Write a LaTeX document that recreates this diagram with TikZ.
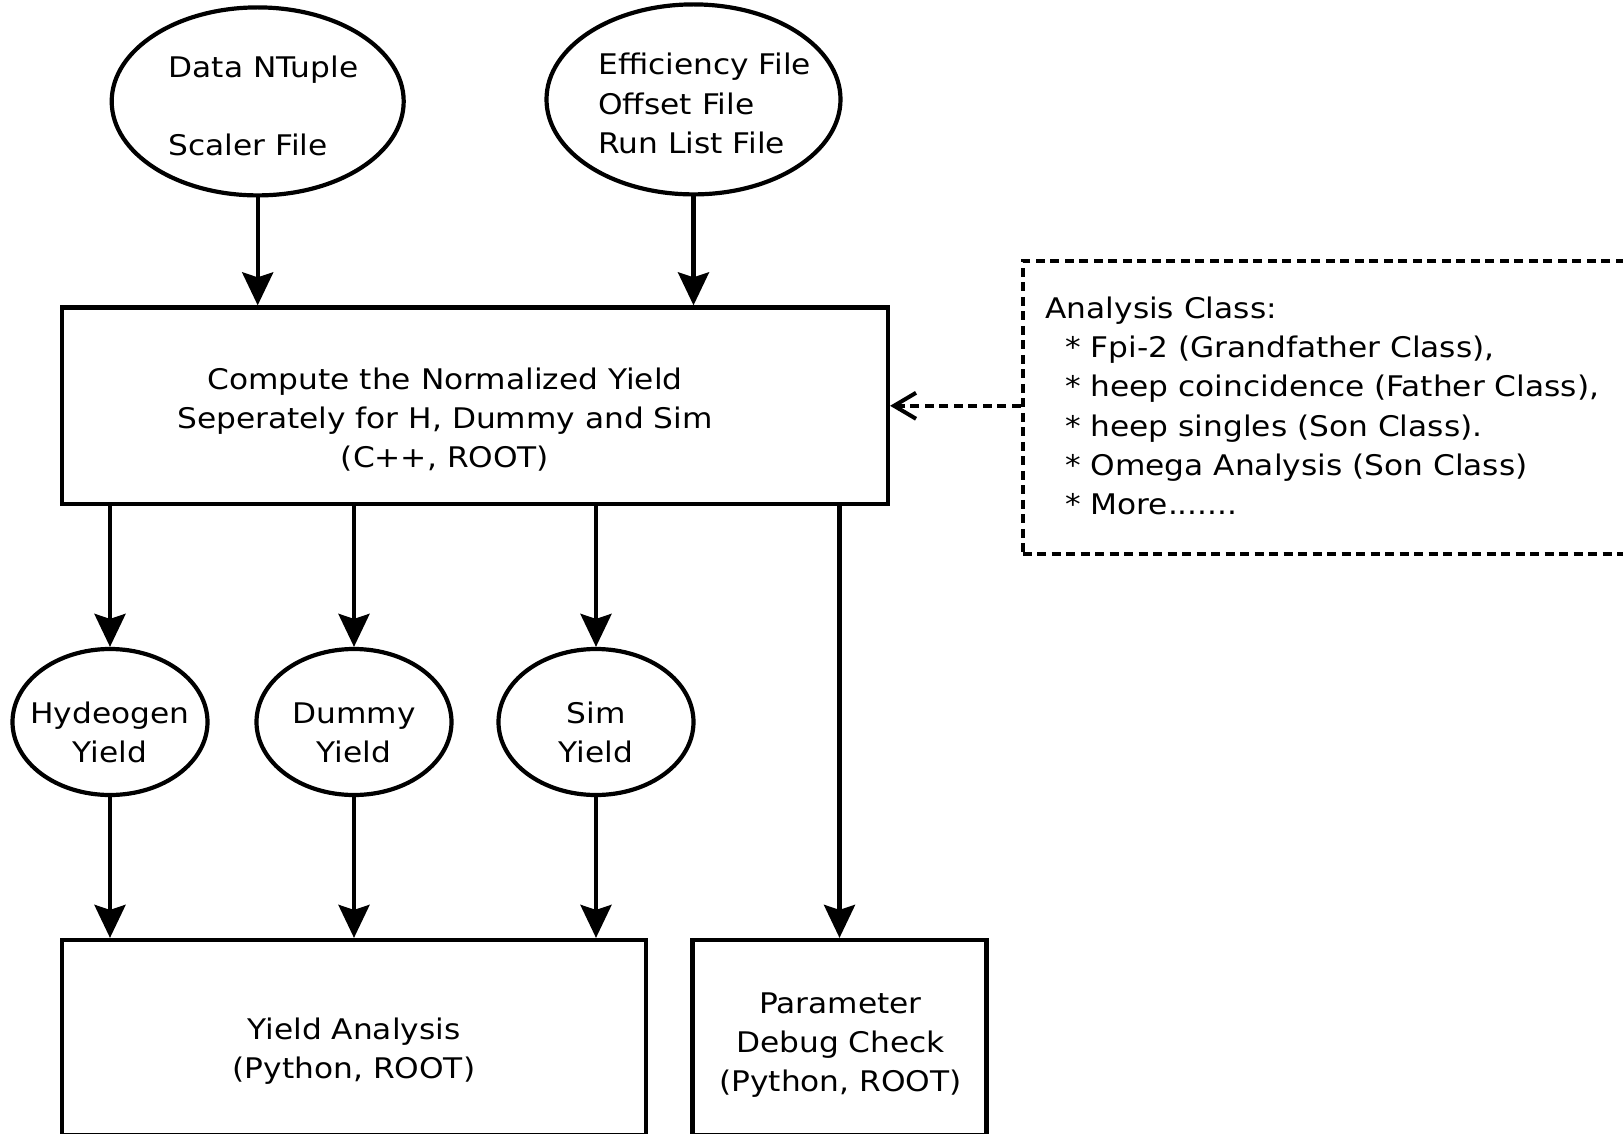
\documentclass[tikz,border=0pt]{standalone}
\usepackage{fontspec}
\setmainfont{DejaVu Sans}[FakeStretch=1.10]
\usetikzlibrary{arrows.meta,shapes.geometric}
% centred block: #1 = twice the right shift, #2 = downward shift, #3 = lines
\newcommand\ctxt[3]{\raisebox{\dimexpr-#2-9.7pt\relax}[0pt][0pt]{\makebox[0pt]{\hspace*{#1}\begin{tabular}{@{}c@{}}#3\end{tabular}}}}
% left-aligned block: #1 = left edge from node centre, #2 = downward shift, #3 = lines
\newcommand\ltxt[3]{\raisebox{\dimexpr-#2-9.7pt\relax}[0pt][0pt]{\makebox[0pt][l]{\hspace*{#1}\begin{tabular}{@{}l@{}}#3\end{tabular}}}}
\begin{document}
\begin{tikzpicture}[x=1pt,y=-1pt,
  every node/.style={font=\fontsize{28.4}{39.1}\selectfont, inner sep=0pt, line width=4.2pt},
  oval/.style={draw, ellipse},
  box/.style={draw, rectangle},
  note/.style={draw, rectangle, line width=4pt, dash pattern=on 9pt off 5.5pt},
  flow/.style={line width=4.2pt, -{Stealth[length=33pt,width=31pt,inset=5pt]}},
  link/.style={line width=4pt, dash pattern=on 9pt off 5.5pt, -{Straight Barb[length=22pt,width=26pt]}},
]
\useasboundingbox (0,0) rectangle (1623,1134);
\clip (0,0) rectangle (1623,1134);
\fill[white] (0,0) rectangle (1623,1134);

\node[oval, minimum width=292pt, minimum height=188pt] (dn) at (257.7,101.4)
  {\ltxt{-89pt}{3.6pt}{Data NTuple\\ \\Scaler File}};
\node[oval, minimum width=294pt, minimum height=190pt] (ef) at (693.5,99.4)
  {\ltxt{-95.2pt}{3.4pt}{Efficiency File\\Offset File\\Run List File}};

\node[box, minimum width=826pt, minimum height=196.7pt] (main) at (475,405.8)
  {\ctxt{-60pt}{11.2pt}{Compute the Normalized Yield\\Seperately for H, Dummy and Sim\\(C++, ROOT)}};

\node[note, minimum width=604pt, minimum height=293pt] (cls) at (1324.7,407.3)
  {\ltxt{-279.2pt}{-2.1pt}{Analysis Class:\\
   \hspace*{19.5pt}* Fpi-2 (Grandfather Class),\\
   \hspace*{19.5pt}* heep coincidence (Father Class),\\
   \hspace*{19.5pt}* heep singles (Son Class).\\
   \hspace*{19.5pt}* Omega Analysis (Son Class)\\
   \hspace*{19.5pt}* More.......}};

\node[oval, minimum width=195pt, minimum height=146pt] (hy) at (110,722)
  {\ctxt{0pt}{9.3pt}{Hydeogen\\Yield}};
\node[oval, minimum width=195pt, minimum height=146pt] (dm) at (354,722)
  {\ctxt{0pt}{9.3pt}{Dummy\\Yield}};
\node[oval, minimum width=195pt, minimum height=146pt] (sm) at (596,722)
  {\ctxt{0pt}{9.3pt}{Sim\\Yield}};

\node[box, minimum width=584pt, minimum height=195pt] (ya) at (354,1037.5)
  {\ctxt{0pt}{10pt}{Yield Analysis\\(Python, ROOT)}};
\node[box, minimum width=294pt, minimum height=195pt] (pd) at (839.5,1037.5)
  {\ctxt{2pt}{3.8pt}{Parameter\\Debug Check\\(Python, ROOT)}};

\draw[flow] (dn.south) -- (dn.south |- main.north);
\draw[flow] (ef.south) -- (ef.south |- main.north);
\foreach \n in {hy,dm,sm} {
  \draw[flow] (\n.north |- main.south) -- (\n.north);
  \draw[flow] (\n.south) -- (\n.south |- ya.north);
}
\draw[flow] (pd.north |- main.south) -- (pd.north);
\draw[link] (main.east -| cls.west) -- (main.east);
\end{tikzpicture}
\end{document}
